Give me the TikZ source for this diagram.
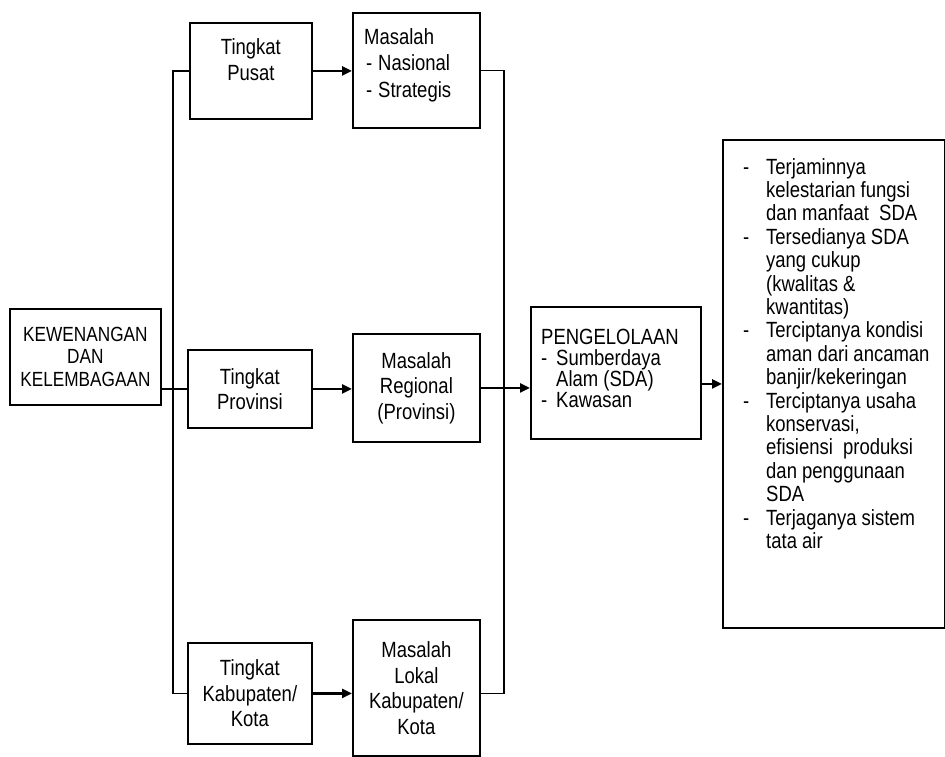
\documentclass[tikz,border=0pt]{standalone}
\usepackage{fontspec}
\setmainfont{Liberation Sans}[FakeStretch=0.84]
\usetikzlibrary{arrows.meta}
\usetikzlibrary{positioning}
\tikzset{box/.style={draw, line width=1.8pt, inner sep=0pt, align=center, font=\fontsize{22}{25.5}\selectfont}}
\tikzset{txt/.style={inner sep=0pt, font=\fontsize{22}{26.5}\selectfont}}
\tikzset{link/.style={draw, line width=1.5pt}}
\tikzset{flow/.style={draw, line width=2.8pt, -{Triangle[length=10pt,width=9pt]}}}
\newcommand{\idash}[1]{\makebox[#1][l]{-}}

\begin{document}
\begin{tikzpicture}[x=1pt,y=-1pt]
\useasboundingbox (0,0) rectangle (945,756);

%left block
\node[box,minimum width=151pt,minimum height=96pt,anchor=north west,font=\fontsize{20.5}{22.5}\selectfont] (kew) at (9,308) {KEWENANGAN\\DAN\\KELEMBAGAAN};

%levels
\node[box,minimum width=122pt,minimum height=96pt,anchor=north west] (pusat) at (189,22) {};
\node[txt,align=center,anchor=north] (pusat-t) at ([yshift=-16pt]pusat.north) {Tingkat\\Pusat};
\node[box,minimum width=124pt,minimum height=78pt,anchor=north west] (prov) at (187,349) {Tingkat\\Provinsi};
\node[box,minimum width=124pt,minimum height=101pt,anchor=north west] (kab) at (187,642) {Tingkat\\Kabupaten/\\Kota};

%problems
\node[box,minimum width=127pt,minimum height=115pt,anchor=north west] (nas) at (352,12) {};
\node[txt,align=left,anchor=north west] (nas-t) at ([xshift=12pt,yshift=-16pt]nas.north west) {Masalah\\\hspace*{2pt}\idash{12pt}Nasional\\\hspace*{2pt}\idash{12pt}Strategis};
\node[box,minimum width=127pt,minimum height=108pt,anchor=north west] (reg) at (352,333) {Masalah\\Regional\\(Provinsi)};
\node[box,minimum width=127pt,minimum height=136pt,anchor=north west] (lok) at (352,619) {Masalah\\Lokal\\Kabupaten/\\Kota};

%management
\node[box,minimum width=170pt,minimum height=132pt,anchor=north west] (peng) at (530,306) {};
\node[txt,align=left,anchor=north west,font=\fontsize{22}{21}\selectfont] (peng-t) at ([xshift=11pt,yshift=-23pt]peng.north west) {PENGELOLAAN\\\idash{15pt}Sumberdaya\\\hspace*{15pt}Alam (SDA)\\\idash{15pt}Kawasan};

%outcomes
\node[box,minimum width=222pt,minimum height=488pt,anchor=north west] (out) at (722,139) {};
\node[txt,align=left,anchor=north west,font=\fontsize{22}{23.4}\selectfont] (out-t) at ([xshift=21pt,yshift=-19pt]out.north west) {\idash{23pt}Terjaminnya\\
\hspace*{23pt}kelestarian fungsi\\
\hspace*{23pt}dan manfaat~ SDA\\
\idash{23pt}Tersedianya SDA\\
\hspace*{23pt}yang cukup\\
\hspace*{23pt}(kwalitas \&\\
\hspace*{23pt}kwantitas)\\
\idash{23pt}Terciptanya kondisi\\
\hspace*{23pt}aman dari ancaman\\
\hspace*{23pt}banjir/kekeringan\\
\idash{23pt}Terciptanya usaha\\
\hspace*{23pt}konservasi,\\
\hspace*{23pt}efisiensi~ produksi\\
\hspace*{23pt}dan penggunaan\\
\hspace*{23pt}SDA\\
\idash{23pt}Terjaganya sistem\\
\hspace*{23pt}tata air};

%bus lines
\path[link] (pusat.west) -- ++(-16,0) |- (kab.west);
\path[link] (kew.east |- prov.west) -- (prov.west);
\path[link] (nas.east) -- ++(23,0) |- (lok.east |- kab.east);

%arrows
\path[flow] (pusat.east) -- (pusat.east -| nas.west);
\path[flow] (prov.east) -- (prov.east -| reg.west);
\path[flow] (kab.east) -- (kab.east -| lok.west);
\path[flow] (reg.east) -- (reg.east -| peng.west);
\path[flow] (peng.east |- out.west) -- (out.west);

\end{tikzpicture}
\end{document}
